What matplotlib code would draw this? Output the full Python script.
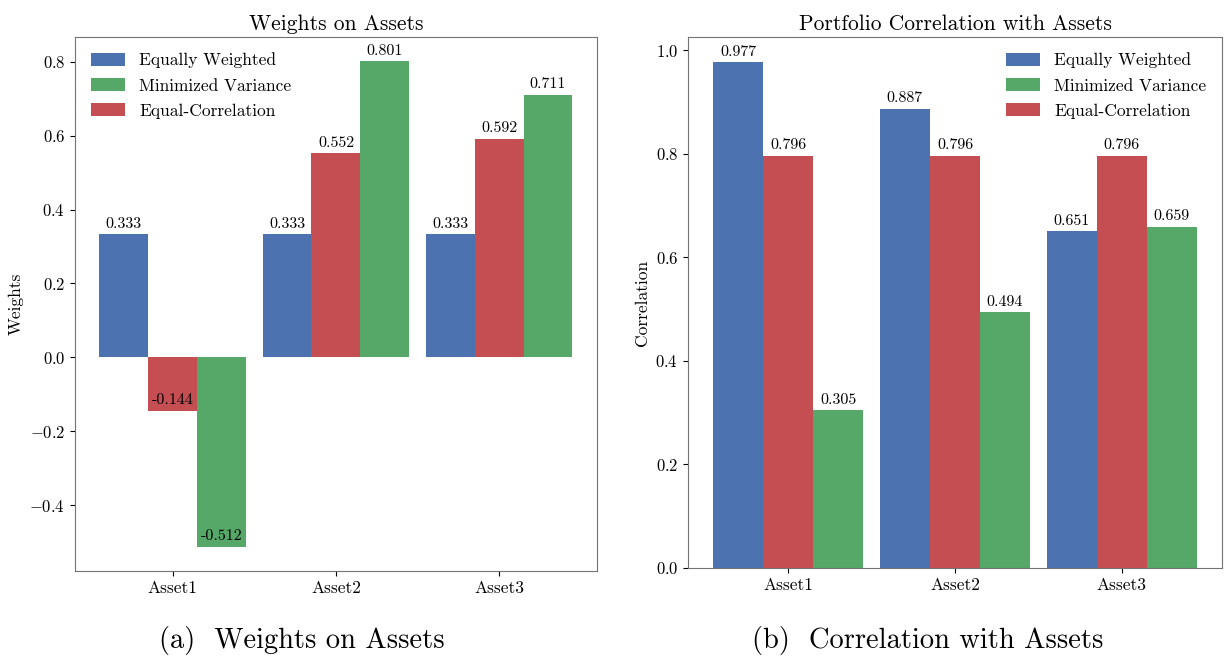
import matplotlib
matplotlib.use("Agg")
import matplotlib.pyplot as plt
import numpy as np

# portfolio weights / correlations for three assets
assets = ["Asset1", "Asset2", "Asset3"]
methods = ["Equally Weighted", "Equal-Correlation", "Minimized Variance"]
colors = {"Equally Weighted": "#4C72B0", "Equal-Correlation": "#C44E52", "Minimized Variance": "#55A868"}
legend_order = ["Equally Weighted", "Minimized Variance", "Equal-Correlation"]

weights = {
    "Equally Weighted": [0.333, 0.333, 0.333],
    "Equal-Correlation": [-0.144, 0.552, 0.592],
    "Minimized Variance": [-0.512, 0.801, 0.711],
}
correl = {
    "Equally Weighted": [0.977, 0.887, 0.651],
    "Equal-Correlation": [0.796, 0.796, 0.796],
    "Minimized Variance": [0.305, 0.494, 0.659],
}

plt.rcParams["font.family"] = "serif"
plt.rcParams["font.serif"] = ["cmr10", "DejaVu Serif"]
plt.rcParams["mathtext.fontset"] = "cm"
plt.rcParams["axes.formatter.use_mathtext"] = True

fig = plt.figure(figsize=(12.27, 6.6), dpi=100)
ax1 = fig.add_axes([0.0611, 0.1348, 0.4254, 0.8092])
ax2 = fig.add_axes([0.5607, 0.1394, 0.4352, 0.8046])

def draw(ax, data, title, ylabel, loc):
    x = np.arange(len(assets))
    w = 0.3
    bars = {}
    for i, m in enumerate(methods):
        b = ax.bar(x + (i - 1) * w, data[m], w, color=colors[m], label=m)
        bars[m] = b
        for xi, v in zip(x + (i - 1) * w, data[m]):
            ax.annotate("%.3f" % v, (xi, v), xytext=(0, 2.5), textcoords="offset points",
                        ha="center", va="bottom", fontsize=11.5)
    ax.set_xticks(x)
    ax.set_xticklabels(assets, fontsize=12.5)
    ax.set_xlim(-0.6, 2.6)
    ax.tick_params(axis="y", labelsize=12)
    ax.set_title(title, fontsize=15.5, pad=5)
    ax.set_ylabel(ylabel, fontsize=12.5)
    for s in ax.spines.values():
        s.set_color("0.45")
    ax.legend([bars[m] for m in legend_order], legend_order, loc=loc, frameon=False,
              fontsize=12.5, handlelength=2.0, handleheight=0.8, labelspacing=0.55)

draw(ax1, weights, "Weights on Assets", "Weights", "upper left")
draw(ax2, correl, "Portfolio Correlation with Assets", "Correlation", "upper right")

fig.text(0.246, 0.03, "(a)  Weights on Assets", ha="center", va="center", fontsize=20.5)
fig.text(0.756, 0.03, "(b)  Correlation with Assets", ha="center", va="center", fontsize=20.5)

fig.savefig("out.png", dpi=100)
